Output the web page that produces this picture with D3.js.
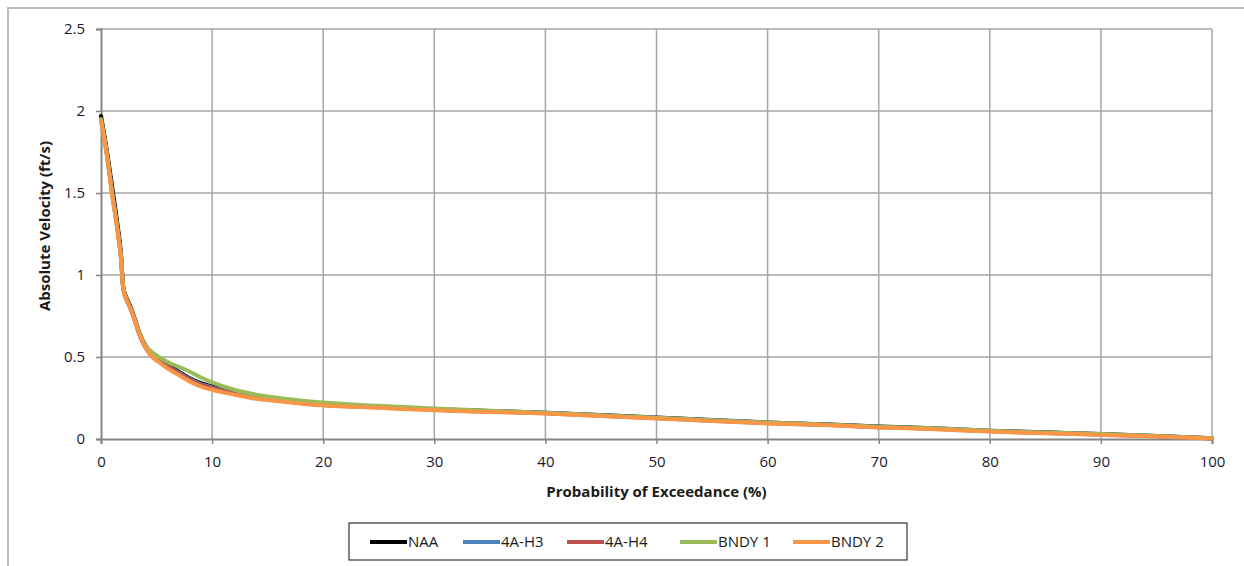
<!DOCTYPE html>
<html><head><meta charset="utf-8">
<script src="https://cdn.jsdelivr.net/npm/d3@7"></script>
<style>body{margin:0;background:#fff}svg{display:block}text{font-family:"Open Sans",Lato,sans-serif;fill:#1a1a1a}</style>
</head><body><svg id="c" width="1244" height="566"></svg>
<script>
const xValues = [0,0.5,1,1.5,1.8,2,2.3,2.7,3,3.5,4,4.5,5,6,7,8,9,10,12,14,16,18,20,25,30,35,40,45,50,55,60,65,70,75,80,85,90,95,100];
const naa   = [1.97,1.77,1.54,1.30,1.13,0.93,0.86,0.80,0.74,0.64,0.57,0.52,0.49,0.45,0.41,0.37,0.34,0.32,0.285,0.26,0.24,0.225,0.215,0.197,0.182,0.171,0.160,0.146,0.131,0.116,0.101,0.090,0.076,0.066,0.051,0.041,0.031,0.019,0.004];
const h3    = [1.95,1.75,1.51,1.27,1.11,0.92,0.85,0.79,0.73,0.63,0.56,0.515,0.485,0.445,0.405,0.365,0.335,0.315,0.28,0.255,0.237,0.222,0.212,0.195,0.180,0.169,0.158,0.144,0.129,0.114,0.099,0.088,0.074,0.064,0.049,0.039,0.029,0.018,0.004];
const h4    = [1.95,1.75,1.50,1.27,1.10,0.92,0.85,0.79,0.73,0.63,0.56,0.51,0.48,0.44,0.40,0.36,0.33,0.31,0.275,0.25,0.234,0.219,0.209,0.193,0.178,0.167,0.157,0.142,0.127,0.112,0.097,0.087,0.072,0.062,0.047,0.037,0.027,0.017,0.003];
const bndy1 = [1.95,1.75,1.50,1.27,1.10,0.92,0.85,0.79,0.73,0.64,0.57,0.535,0.51,0.47,0.44,0.41,0.375,0.345,0.30,0.27,0.25,0.235,0.222,0.202,0.186,0.172,0.160,0.145,0.130,0.115,0.100,0.089,0.075,0.065,0.050,0.040,0.030,0.018,0.004];
const bndy2 = [1.94,1.74,1.49,1.26,1.10,0.92,0.85,0.79,0.73,0.63,0.56,0.51,0.48,0.43,0.39,0.35,0.32,0.30,0.27,0.245,0.23,0.215,0.205,0.19,0.175,0.165,0.155,0.14,0.125,0.11,0.095,0.085,0.07,0.06,0.045,0.035,0.025,0.015,0.003];
const seriesNames = ["NAA","4A-H3","4A-H4","BNDY 1","BNDY 2"];
const seriesColors = ["#000000","#4F81BD","#C0504D","#9BBB59","#F79646"];
const seriesValues = [naa,h3,h4,bndy1,bndy2];
const xTicks = [0,10,20,30,40,50,60,70,80,90,100];
const yTicks = [0,0.5,1,1.5,2,2.5];

const svg = d3.select("#c");
svg.append("path").attr("d","M8,566V8H1244").attr("fill","none").attr("stroke","#bdbdbd").attr("stroke-width",2);

const x = d3.scaleLinear().domain([0,100]).range([101,1212]);
const y = d3.scaleLinear().domain([0,2.5]).range([439,29]);

svg.append("g").selectAll("line").data(yTicks.filter(d=>d>0)).join("line")
  .attr("x1",x(0)).attr("x2",x(100)).attr("y1",d=>y(d)).attr("y2",d=>y(d))
  .attr("stroke","#a6a6a6").attr("stroke-width",1.5);
svg.append("g").selectAll("line").data(xTicks.filter(d=>d>0)).join("line")
  .attr("y1",y(0)).attr("y2",y(2.5)).attr("x1",d=>x(d)).attr("x2",d=>x(d))
  .attr("stroke","#a6a6a6").attr("stroke-width",1.5);

const yAxis = svg.append("g").attr("transform",`translate(${x(0)},0)`)
  .call(d3.axisLeft(y).tickValues(yTicks).tickSize(5).tickPadding(11).tickFormat(d=>d));
const xAxis = svg.append("g").attr("transform",`translate(0,${y(0)})`)
  .call(d3.axisBottom(x).tickValues(xTicks).tickSize(5).tickPadding(12).tickFormat(d=>d));
[yAxis,xAxis].forEach(a=>{
  a.select(".domain").attr("stroke","#858585").attr("stroke-width",2);
  a.selectAll(".tick line").attr("stroke","#858585").attr("stroke-width",1.5);
  a.selectAll("text").style("font-size","15px").style("fill","#1a1a2e").style("font-family","'Open Sans',sans-serif");
});

const line = d3.line().x((d,i)=>x(xValues[i])).y(d=>y(d)).curve(d3.curveMonotoneX);
svg.append("g").selectAll("path").data(seriesValues).join("path")
  .attr("d",d=>line(d)).attr("fill","none")
  .attr("stroke",(d,i)=>seriesColors[i]).attr("stroke-width",4)
  .attr("stroke-linejoin","round").attr("stroke-linecap","round");

svg.append("text").attr("x",(x(0)+x(100))/2).attr("y",497).attr("text-anchor","middle")
  .style("font-size","15px").style("font-weight","bold").text("Probability of Exceedance (%)");
svg.append("text").attr("transform",`translate(50,226) rotate(-90)`).attr("text-anchor","middle")
  .style("font-size","15px").style("font-weight","bold").text("Absolute Velocity (ft/s)");

const lg = svg.append("g");
lg.append("rect").attr("x",349).attr("y",523).attr("width",558).attr("height",37)
  .attr("fill","#fff").attr("stroke","#333").attr("stroke-width",1.2);
const lx = [370,463,567,680,793];
seriesNames.forEach((n,i)=>{
  lg.append("line").attr("x1",lx[i]).attr("x2",lx[i]+37).attr("y1",542).attr("y2",542)
    .attr("stroke",seriesColors[i]).attr("stroke-width",4);
  lg.append("text").attr("x",lx[i]+38).attr("y",547).style("font-size","15px").text(n);
});
</script></body></html>
